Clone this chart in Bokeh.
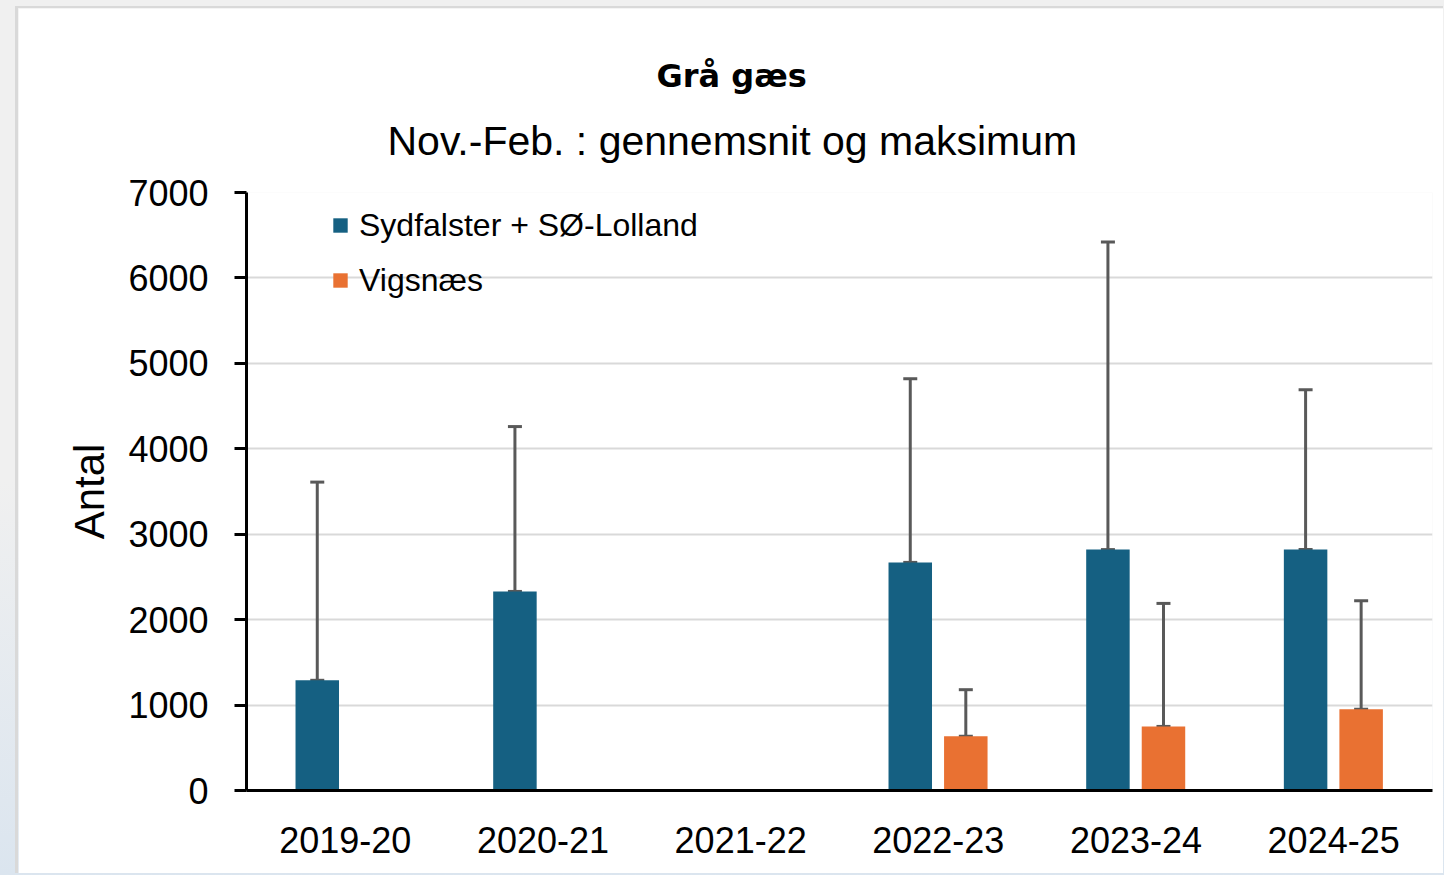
from bokeh.plotting import figure
from bokeh.models import (ColumnDataSource, FactorRange, Whisker, TeeHead, Legend,
                          LegendItem, Title, FixedTicker)
from bokeh.transform import dodge
from bokeh.embed import file_html
from bokeh.resources import INLINE

# ---- data ----
seasons = ["2019-20", "2020-21", "2021-22", "2022-23", "2023-24", "2024-25"]
sydfalster_mean = [1290, 2330, None, 2670, 2820, 2820]
sydfalster_max = [3610, 4260, None, 4820, 6420, 4690]
vigsnaes_mean = [None, None, None, 635, 750, 950]
vigsnaes_max = [None, None, None, 1180, 2190, 2220]

series_names = ["Sydfalster + SØ-Lolland", "Vigsnæs"]
colors = ["#156082", "#E97132"]
y_ticks = [0, 1000, 2000, 3000, 4000, 5000, 6000, 7000]

TITLE_FONT = "Liberation Sans"
AXIS_FONT = "Liberation Sans"


def make_source(means, maxs):
    xs, ms, mx = [], [], []
    for s, m, x in zip(seasons, means, maxs):
        if m is not None:
            xs.append(s)
            ms.append(m)
            mx.append(x)
    return ColumnDataSource(dict(season=xs, mean=ms, max=mx))


src_a = make_source(sydfalster_mean, sydfalster_max)
src_b = make_source(vigsnaes_mean, vigsnaes_max)

p = figure(x_range=FactorRange(factors=seasons), y_range=(0, 7000),
           width=1428, height=867, output_backend="svg", toolbar_location=None,
           min_border_left=228, min_border_right=14, min_border_top=184,
           min_border_bottom=85)
p.margin = (6, 0, 0, 15)
p.styles = {"border-top": "2px solid #d9d9d9", "border-left": "3px solid #d9d9d9"}
p.background_fill_color = "white"
p.border_fill_color = "white"
p.outline_line_color = None

offsets = [-0.142, 0.139]
renderers = []
for src, off, col in zip([src_a, src_b], offsets, colors):
    r = p.vbar(x=dodge("season", off, range=p.x_range), top="mean", width=0.22,
               source=src, fill_color=col, line_color=None)
    renderers.append(r)
    w = Whisker(base=dodge("season", off, range=p.x_range), lower="mean", upper="max",
                source=src, line_color="#595959", line_width=3,
                upper_head=TeeHead(size=14, line_color="#595959", line_width=3),
                lower_head=TeeHead(size=14, line_color="#595959", line_width=3))
    p.add_layout(w)

# axes
p.xgrid.grid_line_color = None
p.ygrid.grid_line_color = "#d9d9d9"
p.ygrid.grid_line_width = 2
p.yaxis.ticker = FixedTicker(ticks=y_ticks)
p.yaxis.minor_tick_line_color = None
p.yaxis.major_tick_in = 0
p.yaxis.major_tick_out = 12
p.yaxis.major_tick_line_width = 3
p.yaxis.axis_line_width = 3
p.yaxis.axis_line_color = "black"
p.yaxis.major_tick_line_color = "black"
p.yaxis.major_label_text_font = AXIS_FONT
p.yaxis.major_label_text_font_size = "36px"
p.yaxis.major_label_text_color = "black"
p.yaxis.major_label_standoff = 26
p.yaxis.axis_label = "Antal"
p.yaxis.axis_label_text_font = AXIS_FONT
p.yaxis.axis_label_text_font_size = "42px"
p.yaxis.axis_label_text_font_style = "normal"
p.yaxis.axis_label_text_color = "black"
p.yaxis.axis_label_standoff = 12

p.xaxis.major_tick_line_color = None
p.xaxis.minor_tick_line_color = None
p.xaxis.axis_line_width = 3
p.xaxis.axis_line_color = "black"
p.xaxis.major_label_text_font = AXIS_FONT
p.xaxis.major_label_text_font_size = "36px"
p.xaxis.major_label_text_color = "black"
p.xaxis.major_label_standoff = 30

# titles
p.add_layout(Title(text="Nov.-Feb. : gennemsnit og maksimum", align="left",
                   text_font=TITLE_FONT, text_font_size="41px", offset=141,
                   text_line_height=1.0,
                   text_font_style="normal", text_color="black", standoff=57), "above")
p.add_layout(Title(text="Grå gæs", align="left", text_font="DejaVu Sans",
                   text_font_size="32px", text_font_style="bold", offset=410,
                   text_color="black", standoff=-15), "above")

legend = Legend(items=[LegendItem(label=n, renderers=[r]) for n, r in zip(series_names, renderers)],
                location=(85, 491), orientation="vertical",
                label_text_font=TITLE_FONT, label_text_font_size="32px",
                label_text_color="black", glyph_width=18, glyph_height=18,
                label_height=38, spacing=17, padding=0, margin=0, label_standoff=10,
                background_fill_alpha=0, border_line_alpha=0)
p.add_layout(legend)

html = file_html(p, INLINE)
html = html.replace(
    "</head>",
    "<style>html,body{background:linear-gradient(to bottom,#f0f0f0 55%,#dbe5ef 100%);"
    "background-color:#f0f0f0;overflow:hidden;}</style></head>", 1)
open("out.html", "w").write(html)
